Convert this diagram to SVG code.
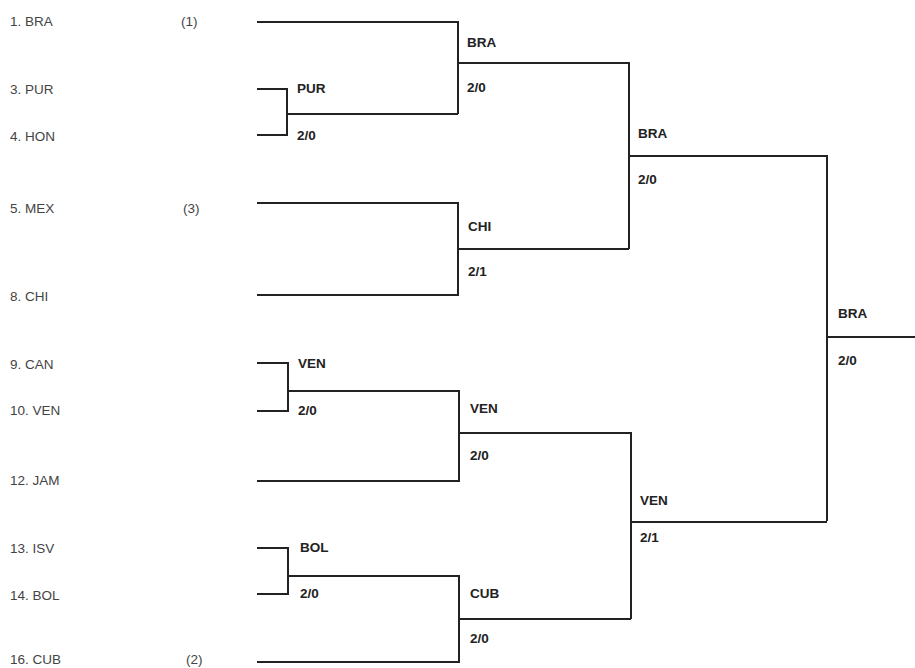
<svg xmlns="http://www.w3.org/2000/svg" width="915" height="668" viewBox="0 0 915 668">
<style>
text{font-family:"Liberation Sans",Arial,sans-serif;font-size:13.5px;fill:#2a2a2a}
.t{fill:#444}
.w{font-weight:bold;fill:#222}
.c path{fill:none;stroke:#222;stroke-width:2}
</style>
<rect width="915" height="668" fill="#fff"/>
<g id="entrants">
<g id="e1"><text class="t" x="10" y="26">1. BRA</text><text class="t" x="181" y="26">(1)</text></g>
<g id="e3"><text class="t" x="10" y="94">3. PUR</text></g>
<g id="e4"><text class="t" x="10" y="141">4. HON</text></g>
<g id="e5"><text class="t" x="10" y="213">5. MEX</text><text class="t" x="183" y="213">(3)</text></g>
<g id="e8"><text class="t" x="10" y="301">8. CHI</text></g>
<g id="e9"><text class="t" x="10" y="369">9. CAN</text></g>
<g id="e10"><text class="t" x="10" y="415">10. VEN</text></g>
<g id="e12"><text class="t" x="10" y="485">12. JAM</text></g>
<g id="e13"><text class="t" x="10" y="553">13. ISV</text></g>
<g id="e14"><text class="t" x="10" y="600">14. BOL</text></g>
<g id="e16"><text class="t" x="10" y="664">16. CUB</text><text class="t" x="186" y="664">(2)</text></g>
</g>
<g class="c" id="connectors">
<path d="M257 22H458V114"/>
<path d="M257 89H287V135H257M287 114H458"/>
<path d="M458 63H629V249"/>
<path d="M257 203H458V295H257M458 249H629"/>
<path d="M629 156H827V521"/>
<path d="M827 337H915"/>
<path d="M257 363H288V411H257M288 391H459V481H257"/>
<path d="M459 433H631V619"/>
<path d="M257 548H288V594H257M288 576H459V662H257"/>
<path d="M459 619H631"/>
<path d="M631 522H827"/>
</g>
<g id="r1-pur"><text class="w" x="297" y="93">PUR</text><text class="w" x="297" y="140">2/0</text></g>
<g id="r1-ven"><text class="w" x="298" y="368">VEN</text><text class="w" x="298" y="415">2/0</text></g>
<g id="r1-bol"><text class="w" x="300" y="552">BOL</text><text class="w" x="300" y="598">2/0</text></g>
<g id="qf-bra"><text class="w" x="467" y="47">BRA</text><text class="w" x="467" y="92">2/0</text></g>
<g id="qf-chi"><text class="w" x="468" y="231">CHI</text><text class="w" x="468" y="276">2/1</text></g>
<g id="qf-ven"><text class="w" x="470" y="413">VEN</text><text class="w" x="470" y="460">2/0</text></g>
<g id="qf-cub"><text class="w" x="470" y="598">CUB</text><text class="w" x="470" y="643">2/0</text></g>
<g id="sf-bra"><text class="w" x="638" y="138">BRA</text><text class="w" x="638" y="184">2/0</text></g>
<g id="sf-ven"><text class="w" x="640" y="505">VEN</text><text class="w" x="640" y="542">2/1</text></g>
<g id="final"><text class="w" x="838" y="318">BRA</text><text class="w" x="838" y="365">2/0</text></g>
</svg>
